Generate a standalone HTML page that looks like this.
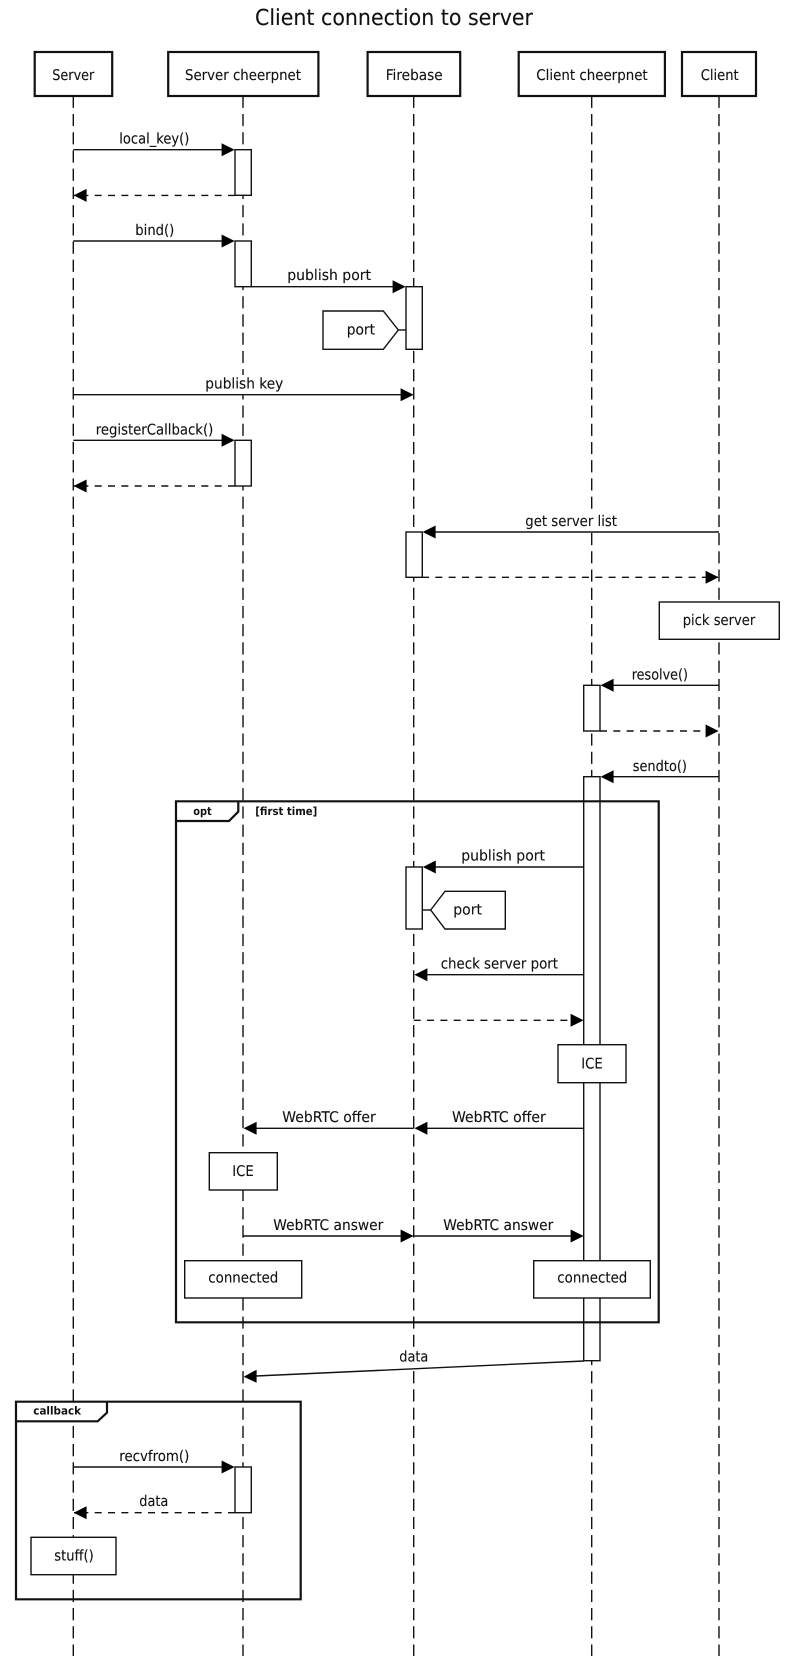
<!DOCTYPE html>
<html><head><meta charset="utf-8"><style>
html,body{margin:0;padding:0;background:#fff}
svg{display:block}
text{font-family:"DejaVu Sans",sans-serif;font-size:14.7px;fill:#111;text-rendering:geometricPrecision;stroke:#111;stroke-width:.12}
.b{font-weight:bold;font-size:11.2px;stroke:none}
.a{fill:#fff;stroke:#111;stroke-width:2.2}
.l{stroke:#111;stroke-width:1.4;fill:none}
.d{stroke-dasharray:7 6.33}
.ll{stroke:#111;stroke-width:1.4;stroke-dasharray:12.15 6.07;fill:none}
.r{fill:#fff;stroke:#111;stroke-width:1.4}
.f{fill:none;stroke:#111;stroke-width:2.2}
.h{fill:#000}
.w{fill:#fff}
</style></head><body>
<svg width="787" height="1656" viewBox="0 0 787 1656" xmlns="http://www.w3.org/2000/svg">
<rect width="787" height="1656" fill="#fff"/>
<text x="255" y="25" textLength="278" lengthAdjust="spacingAndGlyphs" style="font-size:22px;stroke-width:.1">Client connection to server</text>

<!-- lifelines -->
<path class="ll" d="M73.3 95.78V1656M243 95.78V1656M413.7 95.78V1656M591.7 95.78V1656M719 95.78V1656"/>

<!-- actors -->
<rect class="a" x="34.7" y="52" width="77.5" height="44"/>
<rect class="a" x="168.2" y="52" width="150.2" height="44"/>
<rect class="a" x="367.6" y="52" width="92.6" height="44"/>
<rect class="a" x="518.7" y="52" width="146.2" height="44"/>
<rect class="a" x="682" y="52" width="74" height="44"/>
<text x="52.3" y="80" textLength="42" lengthAdjust="spacingAndGlyphs">Server</text>
<text x="185" y="80" textLength="116" lengthAdjust="spacingAndGlyphs">Server cheerpnet</text>
<text x="385.7" y="80" textLength="57" lengthAdjust="spacingAndGlyphs">Firebase</text>
<text x="536.3" y="80" textLength="111.4" lengthAdjust="spacingAndGlyphs">Client cheerpnet</text>
<text x="700.7" y="80" textLength="38" lengthAdjust="spacingAndGlyphs">Client</text>

<!-- label backgrounds -->
<rect class="w" x="119" y="130" width="71" height="19"/>
<rect class="w" x="135" y="222" width="40" height="19"/>
<rect class="w" x="287" y="267" width="84" height="19"/>
<rect class="w" x="205" y="375" width="79" height="19"/>
<rect class="w" x="95.5" y="421" width="118" height="19"/>
<rect class="w" x="525" y="513" width="92" height="19"/>
<rect class="w" x="631.5" y="666" width="57" height="19"/>
<rect class="w" x="632.5" y="758" width="55" height="19"/>
<rect class="w" x="461" y="848" width="84" height="19"/>
<rect class="w" x="440.5" y="955" width="118" height="19"/>
<rect class="w" x="282" y="1109" width="94" height="19"/>
<rect class="w" x="452" y="1109" width="94" height="19"/>
<rect class="w" x="273" y="1217" width="110" height="19"/>
<rect class="w" x="443" y="1217" width="110" height="19"/>
<rect class="w" x="399" y="1349" width="30" height="17"/>
<rect class="w" x="119" y="1448" width="71" height="19"/>
<rect class="w" x="139" y="1494" width="30" height="18"/>
<rect class="w" x="17" y="1402.7" width="89" height="18"/>

<!-- activations -->
<rect class="r" x="235" y="149.7" width="16.3" height="45.6"/>
<rect class="r" x="235" y="241" width="16.3" height="45.7"/>
<rect class="r" x="406" y="286.7" width="16.3" height="62.6"/>
<rect class="r" x="235" y="440.3" width="16.3" height="45.7"/>
<rect class="r" x="406" y="532" width="16.3" height="45.3"/>
<rect class="r" x="583.7" y="685.3" width="16.3" height="45.7"/>
<rect class="r" x="583.7" y="776.7" width="16.3" height="584"/>
<rect class="r" x="406" y="867" width="16.3" height="62"/>
<rect class="r" x="235" y="1467" width="16.3" height="45.7"/>

<!-- frames -->
<path class="f" d="M176 801.3H658.7V1322.3H176ZM176 821H229L238.3 811.7V801.3"/>
<path class="f" d="M16 1401.7H300.7V1599.3H16ZM16 1421.3H97.7L107 1412.7V1401.7"/>
<text class="b" x="193.3" y="815" textLength="18.4" lengthAdjust="spacingAndGlyphs">opt</text>
<text class="b" x="255.3" y="815" textLength="62" lengthAdjust="spacingAndGlyphs">[first time]</text>
<text class="b" x="33.3" y="1414.3" textLength="47.7" lengthAdjust="spacingAndGlyphs">callback</text>

<!-- messages -->
<path class="l" d="M73.3 149.7H222M73.3 241H222M251 286.7H393M73.3 394.7H401M73.3 440.3H222M719 532H435M719 685.3H613M719 776.7H613M583.7 867H435M583.7 974.7H427M583.7 1128.3H427M413.7 1128.3H256M243 1236H401M413.7 1236H571M584 1361L256 1376M73.3 1467H222"/>
<path class="l d" d="M235 195.4H74M235 486H74M422 577.3H718M600 731H718M413.7 1020.3H583M235 1512.7H74"/>
<g class="h">
<path d="M234.6 149.7l-13-6.5v13zM234.6 241l-13-6.5v13zM405.6 286.7l-13-6.5v13zM413.6 394.7l-13-6.5v13zM234.6 440.3l-13-6.5v13z"/>
<path d="M73.6 195.4l13-6.5v13zM73.6 486l13-6.5v13z"/>
<path d="M422.6 532l13-6.5v13zM600.6 685.3l13-6.5v13zM600.6 776.7l13-6.5v13zM422.8 867l13-6.5v13zM414.4 974.7l13-6.5v13zM414.4 1128.3l13-6.5v13zM243.6 1128.3l13-6.5v13z"/>
<path d="M718.6 577.3l-13-6.5v13zM718.6 731l-13-6.5v13zM583.6 1020.3l-13-6.5v13zM413.6 1236l-13-6.5v13zM583.6 1236l-13-6.5v13zM234.6 1467l-13-6.5v13z"/>
<path d="M243.6 1376.7l13-7v13zM73.6 1512.7l13-6.5v13z"/>
</g>

<!-- message labels -->
<text x="119.3" y="143.5" textLength="70" lengthAdjust="spacingAndGlyphs">local_key()</text>
<text x="135.3" y="235" textLength="39" lengthAdjust="spacingAndGlyphs">bind()</text>
<text x="287.3" y="280" textLength="83.7" lengthAdjust="spacingAndGlyphs">publish port</text>
<text x="205.3" y="388.3" textLength="78" lengthAdjust="spacingAndGlyphs">publish key</text>
<text x="95.7" y="434.3" textLength="117.6" lengthAdjust="spacingAndGlyphs">registerCallback()</text>
<text x="525.3" y="526" textLength="91.7" lengthAdjust="spacingAndGlyphs">get server list</text>
<text x="631.7" y="679.3" textLength="56.3" lengthAdjust="spacingAndGlyphs">resolve()</text>
<text x="632.7" y="771" textLength="54.3" lengthAdjust="spacingAndGlyphs">sendto()</text>
<text x="461.3" y="860.5" textLength="83.7" lengthAdjust="spacingAndGlyphs">publish port</text>
<text x="440.7" y="968.3" textLength="117.3" lengthAdjust="spacingAndGlyphs">check server port</text>
<text x="282.3" y="1122" textLength="93.4" lengthAdjust="spacingAndGlyphs">WebRTC offer</text>
<text x="452" y="1122" textLength="93.7" lengthAdjust="spacingAndGlyphs">WebRTC offer</text>
<text x="273.3" y="1230" textLength="110" lengthAdjust="spacingAndGlyphs">WebRTC answer</text>
<text x="443.3" y="1230" textLength="110" lengthAdjust="spacingAndGlyphs">WebRTC answer</text>
<text x="399.3" y="1361.7" textLength="29" lengthAdjust="spacingAndGlyphs">data</text>
<text x="119.3" y="1461" textLength="70" lengthAdjust="spacingAndGlyphs">recvfrom()</text>
<text x="139.3" y="1506" textLength="29" lengthAdjust="spacingAndGlyphs">data</text>

<!-- notes -->
<path class="l" d="M398.3 330H406"/>
<path class="r" d="M323 311H383.3L398.3 330L383.3 349.3H323Z"/>
<text x="346.7" y="334.3" textLength="28.3" lengthAdjust="spacingAndGlyphs">port</text>
<path class="l" d="M422.3 910H430.7"/>
<path class="r" d="M430.7 910L445 891.3H505.3V929H445Z"/>
<text x="453.3" y="914.3" textLength="28.7" lengthAdjust="spacingAndGlyphs">port</text>

<!-- state boxes -->
<rect class="r" x="659.3" y="602" width="120" height="37.3"/>
<text x="682.7" y="625" textLength="72.6" lengthAdjust="spacingAndGlyphs">pick server</text>
<rect class="r" x="558" y="1044.7" width="68" height="38"/>
<text x="581.3" y="1068.3" textLength="21.4" lengthAdjust="spacingAndGlyphs">ICE</text>
<rect class="r" x="209.3" y="1152.7" width="68" height="37.3"/>
<text x="232.3" y="1176" textLength="21.4" lengthAdjust="spacingAndGlyphs">ICE</text>
<rect class="r" x="184.7" y="1260.7" width="117" height="37.3"/>
<text x="208.3" y="1282.7" textLength="70" lengthAdjust="spacingAndGlyphs">connected</text>
<rect class="r" x="533.7" y="1260.7" width="116.6" height="37.3"/>
<text x="557.3" y="1282.7" textLength="70" lengthAdjust="spacingAndGlyphs">connected</text>
<rect class="r" x="31" y="1537.3" width="85" height="37.4"/>
<text x="54.3" y="1560.7" textLength="39.4" lengthAdjust="spacingAndGlyphs">stuff()</text>
</svg>
</body></html>
